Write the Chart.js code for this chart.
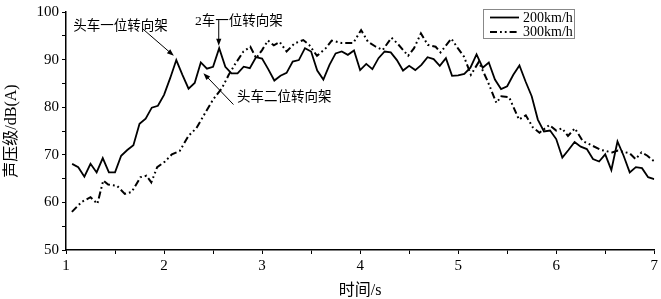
<!DOCTYPE html>
<html>
<head>
<meta charset="utf-8">
<script src="https://cdn.jsdelivr.net/npm/chart.js@4/dist/chart.umd.min.js"></script>
<style>
html,body{margin:0;padding:0;background:#fff;}
#wrap{width:661px;height:299px;}
</style>
</head>
<body>
<div id="wrap"><canvas id="c" width="661" height="299"></canvas></div>
<script>
// ---- data ----
const seriesNames = ["200km/h", "300km/h"];

const time200 = [1.0625,1.125,1.1875,1.25,1.3125,1.375,1.4375,1.5,1.5625,1.625,1.6875,1.75,1.8125,1.875,1.9375,2.0,
  2.0625,2.125,2.1875,2.25,2.3125,2.375,2.4375,2.5,2.5625,2.625,2.6875,2.75,2.8125,2.875,2.9375,3.0,
  3.0625,3.125,3.1875,3.25,3.3125,3.375,3.4375,3.5,3.5625,3.625,3.6875,3.75,3.8125,3.875,3.9375,4.0,
  4.0625,4.125,4.1875,4.25,4.3125,4.375,4.4375,4.5,4.5625,4.625,4.6875,4.75,4.8125,4.875,4.9375,5.0,
  5.0625,5.125,5.1875,5.25,5.3125,5.375,5.4375,5.5,5.5625,5.625,5.6875,5.75,5.8125,5.875,5.9375,6.0,
  6.0625,6.125,6.1875,6.25,6.3125,6.375,6.4375,6.5,6.5625,6.625,6.6875,6.75,6.8125,6.875,6.9375,7.0];
const level200 = [68.1,67.4,65.4,68.1,66.3,69.3,66.3,66.3,69.8,71.0,72.0,76.5,77.6,79.9,80.3,82.6,
  86.1,89.9,86.8,83.9,85.1,89.4,88.1,88.5,92.4,88.5,87.1,87.1,88.5,88.2,90.5,90.2,
  88.0,85.6,86.6,87.2,89.6,89.9,92.4,91.7,87.7,85.8,88.9,91.3,91.7,91.0,91.9,87.8,
  89.1,88.0,90.3,91.7,91.5,89.9,87.7,88.7,87.8,88.9,90.5,90.1,88.7,90.3,86.6,86.7,
  87.0,88.3,91.1,88.3,89.4,85.8,83.8,84.4,86.8,88.75,85.4,82.3,77.4,74.9,75.1,73.3,
  69.4,71.0,72.7,71.7,71.2,69.1,68.6,70.1,66.8,72.8,69.8,66.3,67.4,67.2,65.3,64.9];

const time300 = [1.06,1.16,1.25,1.32,1.38,1.43,1.52,1.60,1.67,1.76,1.82,1.87,1.93,2.01,2.08,2.16,2.25,2.33,2.42,2.50,
  2.59,2.66,2.72,2.81,2.88,2.94,3.00,3.06,3.12,3.18,3.25,3.33,3.42,3.48,3.56,3.65,3.71,3.81,3.93,4.01,
  4.08,4.16,4.23,4.32,4.38,4.49,4.55,4.62,4.69,4.77,4.82,4.93,5.00,5.06,5.13,5.21,5.30,5.39,5.44,5.52,
  5.62,5.69,5.76,5.83,5.93,6.00,6.06,6.12,6.19,6.27,6.37,6.46,6.57,6.63,6.75,6.81,6.87,6.93,7.00];
const level300 = [58.0,60.1,61.1,59.7,64.6,63.75,63.5,61.8,62.2,65.3,65.6,64.2,67.4,68.6,70.1,70.8,74.0,75.6,78.8,81.6,
  84.0,86.8,88.9,91.7,92.7,90.3,92.0,94.0,93.0,93.7,91.7,93.4,94.1,93.1,90.8,92.4,94.0,93.5,93.5,96.2,
  93.75,92.7,92.0,94.6,93.4,90.8,92.4,95.5,93.1,92.7,91.5,94.4,92.3,90.6,86.8,89.5,85.5,80.9,82.3,82.1,
  77.4,78.3,75.8,74.65,76.25,75.1,75.55,73.96,75.55,72.9,71.9,71.0,70.5,70.9,70.3,69.1,70.5,69.8,68.6];

const xTitle = "时间/s";
const yTitle = "声压级/dB(A)";

// annotations: text, arrow tail and tip in data coordinates
const annoTexts = ["头车一位转向架", "2车一位转向架", "头车二位转向架"];
const annoTail = [[1.78, 96.5], [2.558, 98.3], [2.708, 80.56]];
const annoTip  = [[2.10, 90.8], [2.558, 92.9], [2.402, 87.15]];
const annoTextPos = [[1.075, 97.0], [2.315, 98.0], [2.745, 82.1]];

// ---- drawing ----
const SERIF = '"Liberation Serif", "Noto Sans CJK SC", serif';

const overlay = {
  id: 'overlay',
  afterDraw(chart) {
    const ctx = chart.ctx;
    const xs = chart.scales.x, ys = chart.scales.y;
    ctx.save();
    // annotations
    ctx.fillStyle = '#000';
    ctx.strokeStyle = '#000';
    ctx.font = '13.5px ' + SERIF;
    ctx.textBaseline = 'middle';
    ctx.textAlign = 'left';
    for (let i = 0; i < annoTexts.length; i++) {
      const tx = xs.getPixelForValue(annoTextPos[i][0]);
      const ty = ys.getPixelForValue(annoTextPos[i][1]);
      ctx.fillText(annoTexts[i], tx, ty);
      const x0 = xs.getPixelForValue(annoTail[i][0]), y0 = ys.getPixelForValue(annoTail[i][1]);
      const x1 = xs.getPixelForValue(annoTip[i][0]), y1 = ys.getPixelForValue(annoTip[i][1]);
      const ang = Math.atan2(y1 - y0, x1 - x0);
      const hl = 7, hw = 2.6;
      ctx.lineWidth = 1;
      ctx.beginPath();
      ctx.moveTo(x0, y0);
      ctx.lineTo(x1 - Math.cos(ang) * hl * 0.8, y1 - Math.sin(ang) * hl * 0.8);
      ctx.stroke();
      ctx.beginPath();
      ctx.moveTo(x1, y1);
      ctx.lineTo(x1 - Math.cos(ang) * hl - Math.sin(ang) * hw, y1 - Math.sin(ang) * hl + Math.cos(ang) * hw);
      ctx.lineTo(x1 - Math.cos(ang) * hl + Math.sin(ang) * hw, y1 - Math.sin(ang) * hl - Math.cos(ang) * hw);
      ctx.closePath();
      ctx.fill();
    }
    // legend
    const bx = 483.5, by = 9.5, bw = 91, bh = 29;
    ctx.lineWidth = 1;
    ctx.strokeStyle = '#888';
    ctx.fillStyle = '#fff';
    ctx.fillRect(bx, by, bw, bh);
    ctx.strokeRect(bx, by, bw, bh);
    chart.data.datasets.forEach((ds, i) => {
      const ly = 17.5 + i * 14.5;
      ctx.strokeStyle = '#000';
      ctx.lineWidth = ds.borderWidth;
      ctx.setLineDash(ds.borderDash || []);
      ctx.beginPath();
      ctx.moveTo(490, ly);
      ctx.lineTo(519, ly);
      ctx.stroke();
      ctx.setLineDash([]);
      ctx.fillStyle = '#000';
      ctx.font = '14px ' + SERIF;
      ctx.textAlign = 'left';
      ctx.textBaseline = 'middle';
      ctx.fillText(ds.label, 523, ly + 0.5);
    });
    ctx.restore();
  }
};

new Chart(document.getElementById('c'), {
  type: 'line',
  data: {
    datasets: [
      {
        label: seriesNames[0],
        data: time200.map((t, i) => ({x: t, y: level200[i]})),
        borderColor: '#000', borderWidth: 1.8, pointRadius: 0, tension: 0, fill: false
      },
      {
        label: seriesNames[1],
        data: time300.map((t, i) => ({x: t, y: level300[i]})),
        borderColor: '#000', borderWidth: 2, borderDash: [7, 3, 1.8, 3, 1.8, 3],
        pointRadius: 0, tension: 0, fill: false
      }
    ]
  },
  options: {
    responsive: false,
    animation: false,
    devicePixelRatio: 1,
    layout: { padding: { top: 10, right: 6, left: 0, bottom: 0 } },
    plugins: { legend: { display: false }, tooltip: { enabled: false } },
    scales: {
      x: {
        type: 'linear', min: 1, max: 7,
        afterFit(s) { s.height = 49; },
        border: { display: true, color: '#000', width: 1.5 },
        grid: { display: true, drawOnChartArea: false, drawTicks: true, tickLength: 4, tickColor: '#000', tickWidth: 1 },
        ticks: {
          stepSize: 0.5, autoSkip: false, maxRotation: 0, color: '#000', padding: 3,
          font: { family: SERIF, size: 15 },
          callback: v => (Math.abs(v - Math.round(v)) < 1e-6 ? String(Math.round(v)) : '')
        },
        title: { display: true, text: xTitle, color: '#000', font: { family: SERIF, size: 16, lineHeight: 1 }, padding: { top: 0, bottom: 0 } }
      },
      y: {
        type: 'linear', min: 50, max: 100,
        afterFit(s) { s.width = 66; },
        border: { display: true, color: '#000', width: 1.5 },
        grid: { display: true, drawOnChartArea: false, drawTicks: true, tickLength: 4, tickColor: '#000', tickWidth: 1 },
        ticks: {
          stepSize: 5, autoSkip: false, color: '#000', padding: 3,
          font: { family: SERIF, size: 15 },
          callback: v => (v % 10 === 0 ? String(v) : '')
        },
        title: { display: true, text: yTitle, color: '#000', font: { family: SERIF, size: 16, lineHeight: 1 }, padding: { top: 4, bottom: 0 } }
      }
    }
  },
  plugins: [overlay]
});
</script>
</body>
</html>
